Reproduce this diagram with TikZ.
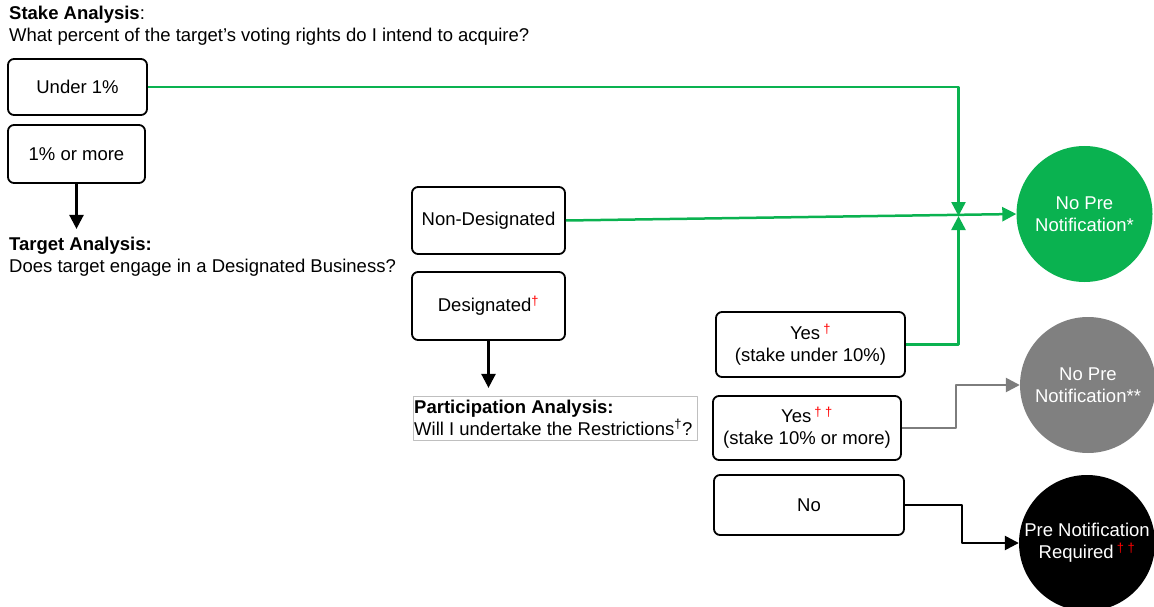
\documentclass[tikz,border=0pt]{standalone}
\usepackage{fontspec}
\setmainfont{Liberation Sans}
\usetikzlibrary{arrows.meta,positioning}
\definecolor{okgreen}{RGB}{10,178,80}
\definecolor{midgray}{RGB}{128,128,128}
\definecolor{linegray}{RGB}{125,125,125}
\newcommand{\rdag}{\textsuperscript{\textcolor{red}{†}}}
\tikzset{
  choice/.style 2 args={draw, rounded corners=6pt, line width=1.8pt, minimum width=#1, minimum height=#2, inner sep=0pt, align=center},
  outcome/.style={circle, minimum size=136pt, inner sep=0pt, text=white, align=center},
  question/.style={align=left, inner sep=0pt, anchor=base west},
  link/.style={line width=2.5pt, -{Triangle[length=14pt,width=14pt]}},
}
\begin{document}
\begin{tikzpicture}[x=1pt, y=-1pt, line join=round, font=\fontsize{18.5}{22}\selectfont]
\useasboundingbox (0,0) rectangle (1154,607);
% questions (anchored on the last line)
\node[question] (stakeq) at (9,42) {\textbf{Stake Analysis}:\\What percent of the target’s voting rights do I intend to acquire?};
\node[question] (targetq) at (9,272) {\textbf{Target Analysis:}\\Does target engage in a Designated Business?};
\node[draw=black!25, line width=0.8pt, minimum width=284pt, minimum height=44pt, anchor=north west] (partbox) at (413,396) {};
\node[question] (partq) at (414,435) {\textbf{Participation Analysis:}\\Will I undertake the Restrictions\textsuperscript{†}?};
% answers
\node[choice={139pt}{56pt}] (under) at (77.5,87) {Under 1\%};
\node[choice={137pt}{58pt}] (over) at (76.5,154) {1\% or more};
\node[choice={153pt}{67pt}] (nondes) at (488.5,220.5) {Non-Designated};
\node[choice={153pt}{68pt}] (des) at (488.5,306) {Designated\rdag};
\node[choice={189pt}{65pt}] (yesa) at (810.5,344.5) {Yes\,\rdag\\(stake under 10\%)};
\node[choice={188pt}{64pt}] (yesb) at (807,428) {Yes\,\rdag\,\rdag\\(stake 10\% or more)};
\node[choice={190pt}{60pt}] (no) at (809,505) {No};
% outcomes
\node[outcome, fill=okgreen] (nopre) at (1084.5,214) {No Pre\\Notification*};
\node[outcome, fill=midgray] (noprex) at (1088,385) {No Pre\\Notification**};
\node[outcome, fill=black] (prereq) at (1087,543) {Pre Notification\\Required\,\rdag\,\rdag};
\coordinate (join) at (958.5,216);
% connectors
\draw[link] (over.south) -- ++(0,45);
\draw[link] (des.south) -- ++(0,47);
\draw[link, okgreen] (under.east) -| (join);
\draw[link, okgreen] (yesa.east) -| (join);
\draw[link, okgreen] (nondes.east) -- (nopre.west);
\draw[link, linegray] (yesb.east) -- ++(54,0) |- (noprex.west);
\draw[link] (no.east) -- ++(57,0) |- (prereq.west);
\end{tikzpicture}
\end{document}
